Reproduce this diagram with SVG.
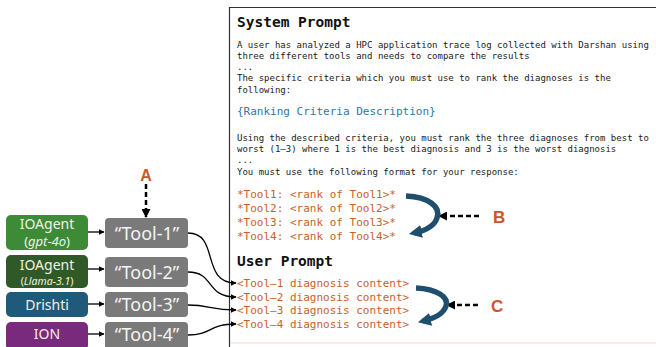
<svg xmlns="http://www.w3.org/2000/svg" width="656" height="347" viewBox="0 0 656 347">
<style>
.mono{font-family:"DejaVu Sans Mono","Liberation Mono",monospace;font-size:9px;fill:#1a1a1a}
.title{font-family:"DejaVu Sans Mono","Liberation Mono",monospace;font-size:14.5px;font-weight:bold;fill:#111}
.orange{font-family:"DejaVu Sans Mono","Liberation Mono",monospace;font-size:11px;fill:#c8602a}
.blue{font-family:"DejaVu Sans Mono","Liberation Mono",monospace;font-size:11px;fill:#2b78a8}
.node{font-family:"Noto Sans","Open Sans",sans-serif;fill:#f3f1e4;text-anchor:middle}
.tool{font-family:"Noto Sans","Open Sans",sans-serif;font-size:18px;fill:#f4f4f4;text-anchor:middle}
.lbl{font-family:"Liberation Sans",Arial,sans-serif;font-weight:bold;fill:#c8582a}
.conn{fill:none;stroke:#000;stroke-width:1.3}
.dash{fill:none;stroke:#000;stroke-width:2.5;stroke-dasharray:5 3}
.arc{fill:none;stroke:#1f4f6e;stroke-width:5.5}
</style>
<defs>
<marker id="ah" viewBox="0 0 10 10" refX="9" refY="5" markerWidth="6" markerHeight="6" markerUnits="userSpaceOnUse" orient="auto"><path d="M0,0 L10,5 L0,10 Z" fill="#000"/></marker>
<marker id="ahd" viewBox="0 0 10 10" refX="9" refY="5" markerWidth="9" markerHeight="9" markerUnits="userSpaceOnUse" orient="auto"><path d="M0,0 L10,5 L0,10 Z" fill="#000"/></marker>
<marker id="ahb" viewBox="0 0 10 10" refX="6" refY="5" markerWidth="13" markerHeight="13" markerUnits="userSpaceOnUse" orient="auto"><path d="M0,0 L10,5 L0,10 Z" fill="#1f4f6e"/></marker>
</defs>
<rect width="656" height="347" fill="#fff"/>

<g id="panel">
<path d="M660,7.5 H229.5 V347" fill="none" stroke="#333" stroke-width="1.2"/>
<line x1="230" y1="343" x2="656" y2="343" stroke="#f3d9d0" stroke-width="1"/>
<text class="title" x="237" y="27">System Prompt</text>
<text class="mono" x="237" y="48">A user has analyzed a HPC application trace log collected with Darshan using</text>
<text class="mono" x="237" y="59">three different tools and needs to compare the results</text>
<text class="mono" x="237" y="70">...</text>
<text class="mono" x="237" y="81">The specific criteria which you must use to rank the diagnoses is the</text>
<text class="mono" x="237" y="93">following:</text>
<text class="blue" x="237" y="115">{Ranking Criteria Description}</text>
<text class="mono" x="237" y="141">Using the described criteria, you must rank the three diagnoses from best to</text>
<text class="mono" x="237" y="152">worst (1–3) where 1 is the best diagnosis and 3 is the worst diagnosis</text>
<text class="mono" x="237" y="163">...</text>
<text class="mono" x="237" y="175">You must use the following format for your response:</text>
<text class="orange" x="237" y="198">*Tool1: &lt;rank of Tool1&gt;*</text>
<text class="orange" x="237" y="212">*Tool2: &lt;rank of Tool2&gt;*</text>
<text class="orange" x="237" y="226">*Tool3: &lt;rank of Tool3&gt;*</text>
<text class="orange" x="237" y="240">*Tool4: &lt;rank of Tool4&gt;*</text>
<text class="title" x="237" y="266">User Prompt</text>
<text class="orange" x="237" y="287">&lt;Tool–1 diagnosis content&gt;</text>
<text class="orange" x="237" y="301">&lt;Tool–2 diagnosis content&gt;</text>
<text class="orange" x="237" y="314">&lt;Tool–3 diagnosis content&gt;</text>
<text class="orange" x="237" y="328">&lt;Tool–4 diagnosis content&gt;</text>
</g>

<g id="src-gpt4o">
<rect x="6" y="215" width="82" height="35" rx="5" fill="#3d8b37"/>
<text class="node" x="47" y="229" font-size="14">IOAgent</text>
<text class="node" x="47" y="246" font-size="13">(<tspan font-style="italic">gpt-4o</tspan>)</text>
</g>
<g id="src-llama">
<rect x="6" y="255" width="82" height="33" rx="5" fill="#2f5a27"/>
<text class="node" x="47" y="270" font-size="14">IOAgent</text>
<text class="node" x="47" y="285" font-size="10.5">(<tspan font-style="italic">Llama-3.1</tspan>)</text>
</g>
<g id="src-drishti">
<rect x="6" y="292" width="82" height="25" rx="5" fill="#1f5a7a"/>
<text class="node" x="47" y="310" font-size="14">Drishti</text>
</g>
<g id="src-ion">
<rect x="6" y="322" width="82" height="28" rx="5" fill="#7a2a7c"/>
<text class="node" x="47" y="339" font-size="14">ION</text>
</g>

<g id="tool1">
<rect x="105" y="218" width="83" height="30" rx="4" fill="#7a7a7a"/>
<text class="tool" x="147" y="240">“Tool-1”</text>
</g>
<g id="tool2">
<rect x="105" y="257" width="83" height="30" rx="4" fill="#7a7a7a"/>
<text class="tool" x="147" y="279">“Tool-2”</text>
</g>
<g id="tool3">
<rect x="105" y="292" width="83" height="25" rx="4" fill="#7a7a7a"/>
<text class="tool" x="147" y="311">“Tool-3”</text>
</g>
<g id="tool4">
<rect x="105" y="322" width="83" height="28" rx="4" fill="#7a7a7a"/>
<text class="tool" x="147" y="341">“Tool-4”</text>
</g>

<g id="label-A">
<text class="lbl" x="146" y="181" font-size="16" text-anchor="middle">A</text>
</g>
<g id="label-B">
<text class="lbl" x="493" y="223" font-size="17">B</text>
</g>
<g id="label-C">
<text class="lbl" x="491" y="312" font-size="17">C</text>
</g>

<g id="connectors">
<line class="conn" x1="88" y1="232" x2="104" y2="232" marker-end="url(#ah)"/>
<line class="conn" x1="88" y1="269" x2="104" y2="269" marker-end="url(#ah)"/>
<line class="conn" x1="88" y1="304" x2="104" y2="304" marker-end="url(#ah)"/>
<line class="conn" x1="88" y1="334" x2="104" y2="334" marker-end="url(#ah)"/>
<path class="conn" d="M188,233 C220,233 200,283 236,283" marker-end="url(#ah)"/>
<path class="conn" d="M188,272 C215,272 205,297 236,297" marker-end="url(#ah)"/>
<path class="conn" d="M188,305 C210,305 210,310 236,310" marker-end="url(#ah)"/>
<path class="conn" d="M188,335 C212,335 208,324 236,324" marker-end="url(#ah)"/>
<line class="dash" x1="146" y1="184" x2="146" y2="217" marker-end="url(#ahd)"/>
<line class="dash" x1="479" y1="216" x2="439" y2="216" marker-end="url(#ahd)"/>
<line class="dash" x1="478" y1="305" x2="447" y2="305" marker-end="url(#ahd)"/>
<path class="arc" d="M406,196 C429,197 441,207 437,218 C434,227 424,231 414,233" marker-end="url(#ahb)"/>
<path class="arc" d="M416,288 C437,289 449,297 446,306 C443,315 432,319 423,321" marker-end="url(#ahb)"/>
</g>
</svg>
